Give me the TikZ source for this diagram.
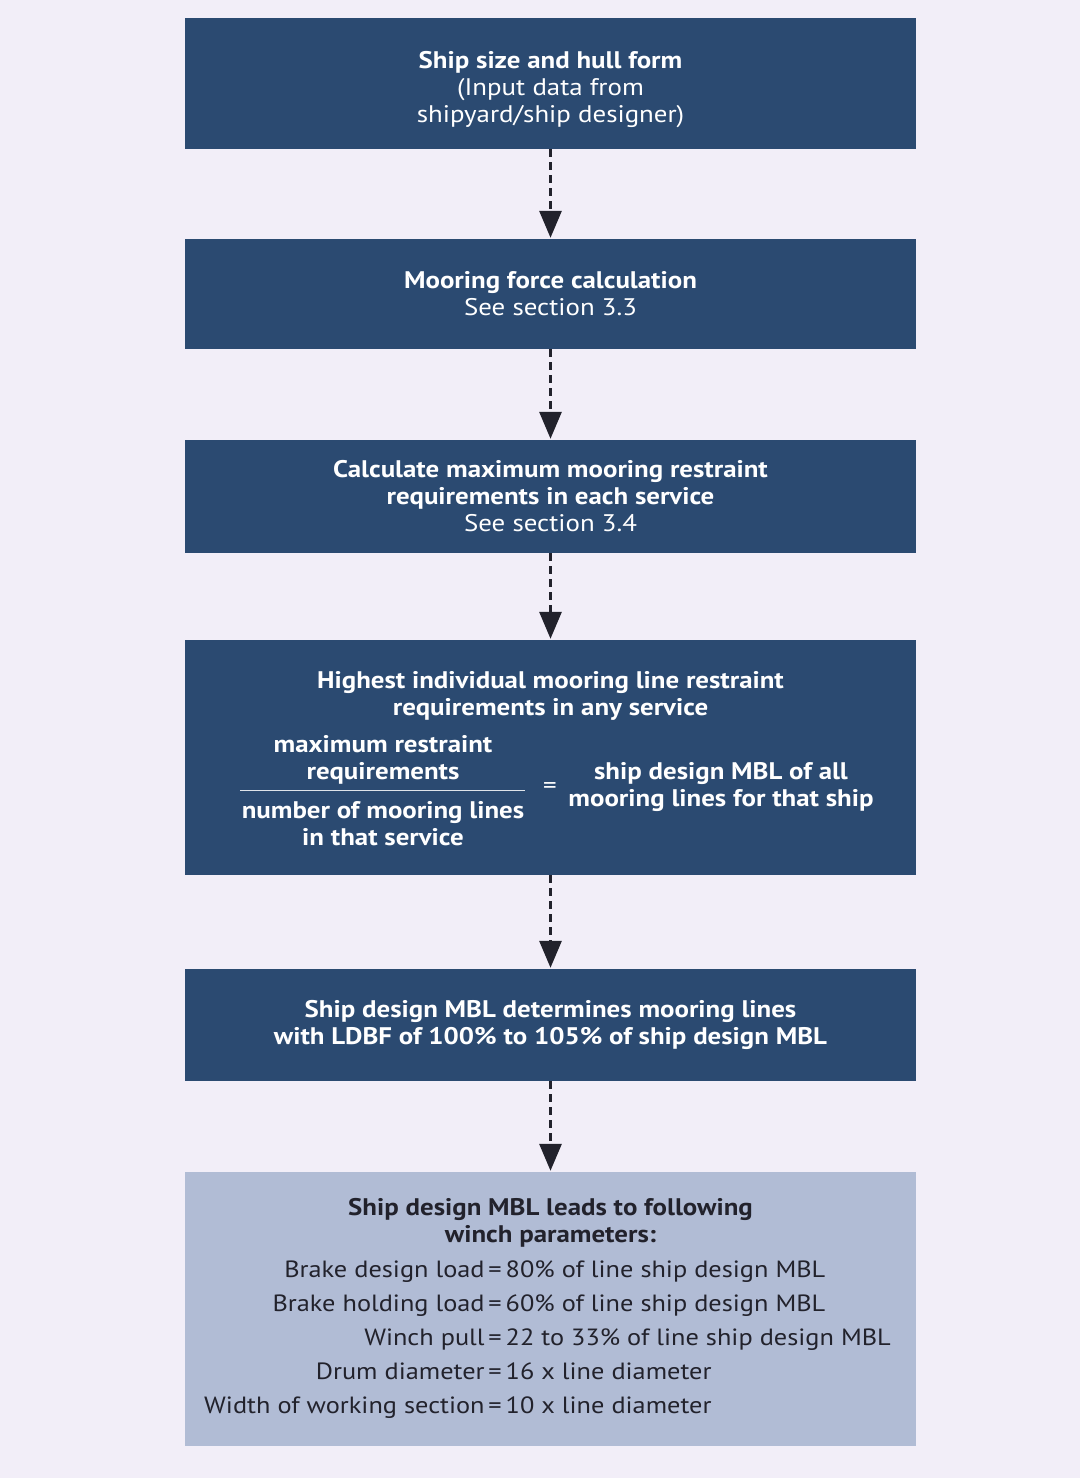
\documentclass[tikz,border=0pt]{standalone}
\usepackage{fontspec}
\setmainfont[FakeStretch=1.12]{PT Sans}
\usetikzlibrary{arrows.meta}
\definecolor{bgcol}{HTML}{F2EEF8}
\definecolor{darkbox}{HTML}{2B4A71}
\definecolor{lightbox}{HTML}{B1BCD5}
\definecolor{inkcol}{HTML}{22222C}
\tikzset{
  box/.style={fill=darkbox, text=white, minimum width=731pt, align=center, inner sep=0pt,
    font=\fontsize{24}{27}\selectfont},
  txt/.style={text=white, align=center, inner sep=0pt, font=\fontsize{24}{27}\selectfont},
  flow/.style={line width=3pt, dash pattern=on 8pt off 5pt, inkcol,
    -{Triangle[width=22pt,length=27pt]}, shorten >=1pt}
}
\begin{document}
\begin{tikzpicture}[x=1pt, y=-1pt]
\fill[bgcol] (0,0) rectangle (1080,1478);
\useasboundingbox (0,0) rectangle (1080,1478);
\node[box, minimum height=131pt] (size) at (550.5,83.5) {};
\node[box, minimum height=110pt] (force) at (550.5,294) {\textbf{Mooring force calculation}\\See section 3.3};
\node[box, minimum height=113pt] (calc) at (550.5,496.5) {\textbf{Calculate maximum mooring restraint}\\\textbf{requirements in each service}\\See section 3.4};
\node[box, minimum height=235pt] (line) at (550.5,757.5) {};
\node[box, minimum height=112pt] (mbl) at (550.5,1025) {\textbf{Ship design MBL determines mooring lines}\\\textbf{with LDBF of 100\% to 105\% of ship design MBL}};
\node[box, fill=lightbox, text=inkcol, minimum height=274pt] (winch) at (550.5,1309) {};
\node[txt] (sizetext) at (550.5,89.5) {\textbf{Ship size and hull form}\\(Input data from\\shipyard/ship designer)};
% fraction inside the fourth box
\node[txt] (linetitle) at (550.5,696) {\textbf{Highest individual mooring line restraint}\\\textbf{requirements in any service}};
\node[txt] (num) at (383,759.5) {\textbf{maximum restraint}\\\textbf{requirements}};
\node[txt] (den) at (383,824) {\textbf{number of mooring lines}\\\textbf{in that service}};
\node[txt] (eq) at (550,788) {=};
\node[txt] (rhs) at (721,787.5) {\textbf{ship design MBL of all}\\\textbf{mooring lines for that ship}};
\draw[white!85!darkbox, line width=1pt] (240,790) -- (525,790);
% winch parameters
\node[txt, text=inkcol] (winchtitle) at (550.5,1223) {\textbf{Ship design MBL leads to following}\\\textbf{winch parameters:}};
\node[txt, text=inkcol, font=\fontsize{23.5}{27}\selectfont] (params) at (547.5,1339) {\renewcommand{\arraystretch}{1.26}%
\begin{tabular}{@{}r@{\,=\,}l@{}}
Brake design load & 80\% of line ship design MBL\\
Brake holding load & 60\% of line ship design MBL\\
Winch pull & 22 to 33\% of line ship design MBL\\
Drum diameter & 16 x line diameter\\
Width of working section & 10 x line diameter
\end{tabular}};
\draw[flow] (size) -- (force);
\draw[flow] (force) -- (calc);
\draw[flow] (calc) -- (line);
\draw[flow] (line) -- (mbl);
\draw[flow] (mbl) -- (winch);
\end{tikzpicture}
\end{document}
